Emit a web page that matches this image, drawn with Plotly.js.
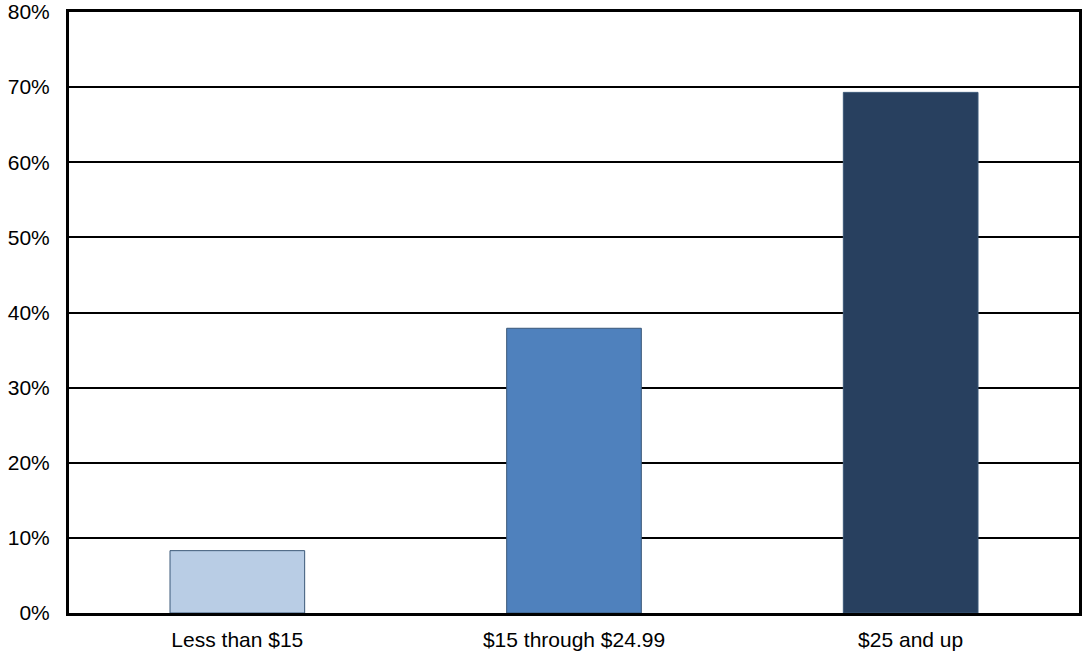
<!DOCTYPE html>
<html>
<head>
<meta charset="utf-8">
<script src="https://cdn.plot.ly/plotly-3.0.1.min.js"></script>
<style>html,body{margin:0;padding:0;background:#fff;}#chart{width:1082px;height:655px;}</style>
</head>
<body>
<div id="chart"></div>
<script>
const categories = ["Less than $15", "$15 through $24.99", "$25 and up"];
const values = [0.083, 0.379, 0.693];
const barColors = ["#B9CDE5", "#4F81BD", "#28405F"];
const yTickVals = [0, 0.1, 0.2, 0.3, 0.4, 0.5, 0.6, 0.7, 0.8];
const yTickText = ["0%", "10%", "20%", "30%", "40%", "50%", "60%", "70%", "80%"];

const trace = {
  type: "bar",
  x: categories,
  y: values,
  width: 0.4,
  marker: { color: barColors, line: { color: "#3B5878", width: 1 } },
  hoverinfo: "none"
};

const layout = {
  width: 1082, height: 655,
  margin: { l: 69, r: 3, t: 12, b: 42 },
  paper_bgcolor: "#fff", plot_bgcolor: "#fff",
  showlegend: false,
  font: { family: "Liberation Sans, Arial, sans-serif", size: 21, color: "#000" },
  xaxis: {
    showgrid: false, zeroline: false,
    showline: true, linecolor: "#000", linewidth: 3, mirror: true,
    ticks: "", ticklabelstandoff: 6,
    tickfont: { size: 21 }
  },
  yaxis: {
    range: [0, 0.8],
    tickvals: yTickVals, ticktext: yTickText,
    showgrid: true, gridcolor: "#000", gridwidth: 2,
    zeroline: false,
    showline: true, linecolor: "#000", linewidth: 3, mirror: true,
    ticks: "", ticklabelstandoff: 12,
    tickfont: { size: 21 }
  }
};

Plotly.newPlot("chart", [trace], layout, { displayModeBar: false, staticPlot: true });
</script>
</body>
</html>
